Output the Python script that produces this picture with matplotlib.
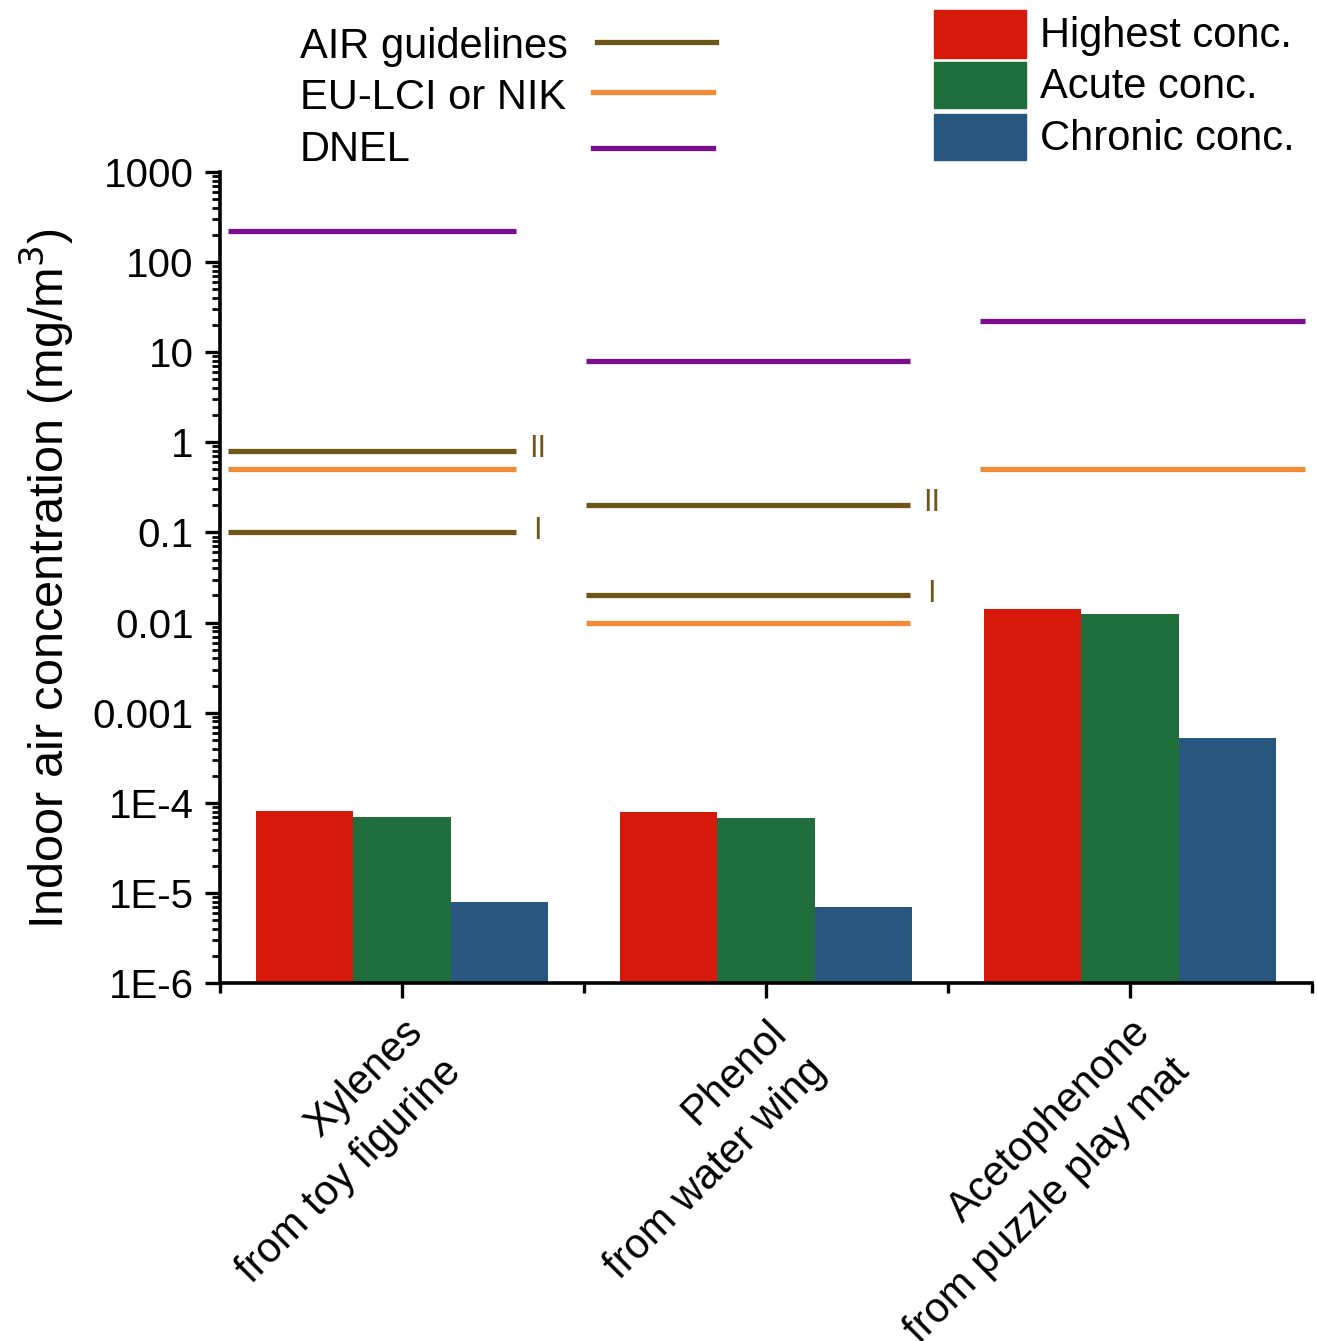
import numpy as np
import matplotlib.pyplot as plt
from matplotlib.lines import Line2D
from matplotlib.patches import Rectangle
from matplotlib.ticker import LogLocator, NullFormatter

plt.rcParams['font.family'] = ['Liberation Sans', 'DejaVu Sans']

# data
compounds = ["Xylenes\nfrom toy figurine", "Phenol\nfrom water wing",
             "Acetophenone\nfrom puzzle play mat"]
series = ["Highest conc.", "Acute conc.", "Chronic conc."]
highest = [8.2e-5, 8.0e-5, 1.43e-2]
acute = [7.0e-5, 6.8e-5, 1.23e-2]
chronic = [7.9e-6, 7.0e-6, 5.3e-4]

# reference values in mg/m3 (None = no value)
air_I = [0.1, 0.02, None]
air_II = [0.8, 0.2, None]
eu_lci = [0.5, 0.01, 0.5]
dnel = [220, 8, 22]
ref_names = ["AIR guidelines", "EU-LCI or NIK", "DNEL"]

ytick_vals = [1e-6, 1e-5, 1e-4, 1e-3, 1e-2, 1e-1, 1, 10, 100, 1000]
ytick_labels = ["1E-6", "1E-5", "1E-4", "0.001", "0.01", "0.1", "1", "10", "100", "1000"]

# styles
bar_colors = ["#D6190A", "#1F6E3B", "#27577F"]
c_air = "#6E5518"
c_eu = "#F08C38"
c_dnel = "#7A0F8E"
line_span = [(-0.478, 0.313), (0.505, 1.395), (1.588, 2.48)]

fig = plt.figure(figsize=(13.17, 13.41), dpi=100)
ax = fig.add_axes([220/1317, 1-983/1341, 1092/1317, 811/1341])

x = np.arange(len(compounds))
w = 0.267
for j, vals in enumerate([highest, acute, chronic]):
    ax.bar(x + (j-1)*w, vals, width=w, color=bar_colors[j], label=series[j])

lw = 3.8
for i in range(len(compounds)):
    x0, x1 = line_span[i]
    if dnel[i] is not None:
        ax.hlines(dnel[i], x0, x1, color=c_dnel, lw=lw)
    if eu_lci[i] is not None:
        ax.hlines(eu_lci[i], x0, x1, color=c_eu, lw=lw)
    if air_II[i] is not None:
        ax.hlines(air_II[i], x0, x1, color=c_air, lw=lw)
        ax.text(x1 + 0.06, air_II[i]*1.05, "II", color=c_air, fontsize=22,
                ha='center', va='center')
    if air_I[i] is not None:
        ax.hlines(air_I[i], x0, x1, color=c_air, lw=lw)
        ax.text(x1 + 0.06, air_I[i]*1.05, "I", color=c_air, fontsize=22,
                ha='center', va='center')

ax.set_yscale('log')
ax.set_ylim(1e-6, 1e3)
ax.set_xlim(-0.5, 2.5)
ax.set_yticks(ytick_vals)
ax.set_yticklabels(ytick_labels)
ax.yaxis.set_minor_locator(LogLocator(base=10, subs=np.arange(2, 10), numticks=20))
ax.yaxis.set_minor_formatter(NullFormatter())

ax.set_xticks(x)
ax.set_xticklabels(compounds, rotation=45, ha='right', va='top',
                   rotation_mode='anchor', multialignment='right',
                   linespacing=1.5, fontsize=30)
ax.set_xticks([-0.5, 0.5, 1.5, 2.5], minor=True)

for s in ['top', 'right']:
    ax.spines[s].set_visible(False)
for s in ['left', 'bottom']:
    ax.spines[s].set_linewidth(2.6)

ax.tick_params(axis='y', which='major', length=11, width=2.4, labelsize=29, pad=8)
ax.tick_params(axis='y', which='minor', length=6, width=2.0)
ax.tick_params(axis='x', which='major', length=11, width=2.4, pad=10)
ax.tick_params(axis='x', which='minor', length=7, width=2.4)

ax.set_ylabel("Indoor air concentration (mg/m$^3$)", fontsize=35)
ax.yaxis.set_label_coords(-0.132, 0.498)

# legend for reference lines
ref_colors = [c_air, c_eu, c_dnel]
ref_text_y = [47, 98, 150]
ref_line = [(597, 716, 42), (593, 713, 92), (593, 713, 148)]
for k in range(3):
    fig.text(300/1317, 1-ref_text_y[k]/1341, ref_names[k], fontsize=30,
             ha='left', va='center')
    xa, xb, yl = ref_line[k]
    fig.add_artist(Line2D([xa/1317, xb/1317], [1-yl/1341, 1-yl/1341],
                          transform=fig.transFigure, color=ref_colors[k], lw=lw))

# legend for bars
box_y = [(10, 58), (62, 108), (114, 160)]
for k in range(3):
    y0, y1 = box_y[k]
    fig.add_artist(Rectangle((934/1317, 1-y1/1341), 92/1317, (y1-y0)/1341,
                             transform=fig.transFigure, color=bar_colors[k]))
    fig.text(1040/1317, 1-((y0+y1)/2+2)/1341, series[k], fontsize=30,
             ha='left', va='center')

fig.savefig("out.png", dpi=100)
